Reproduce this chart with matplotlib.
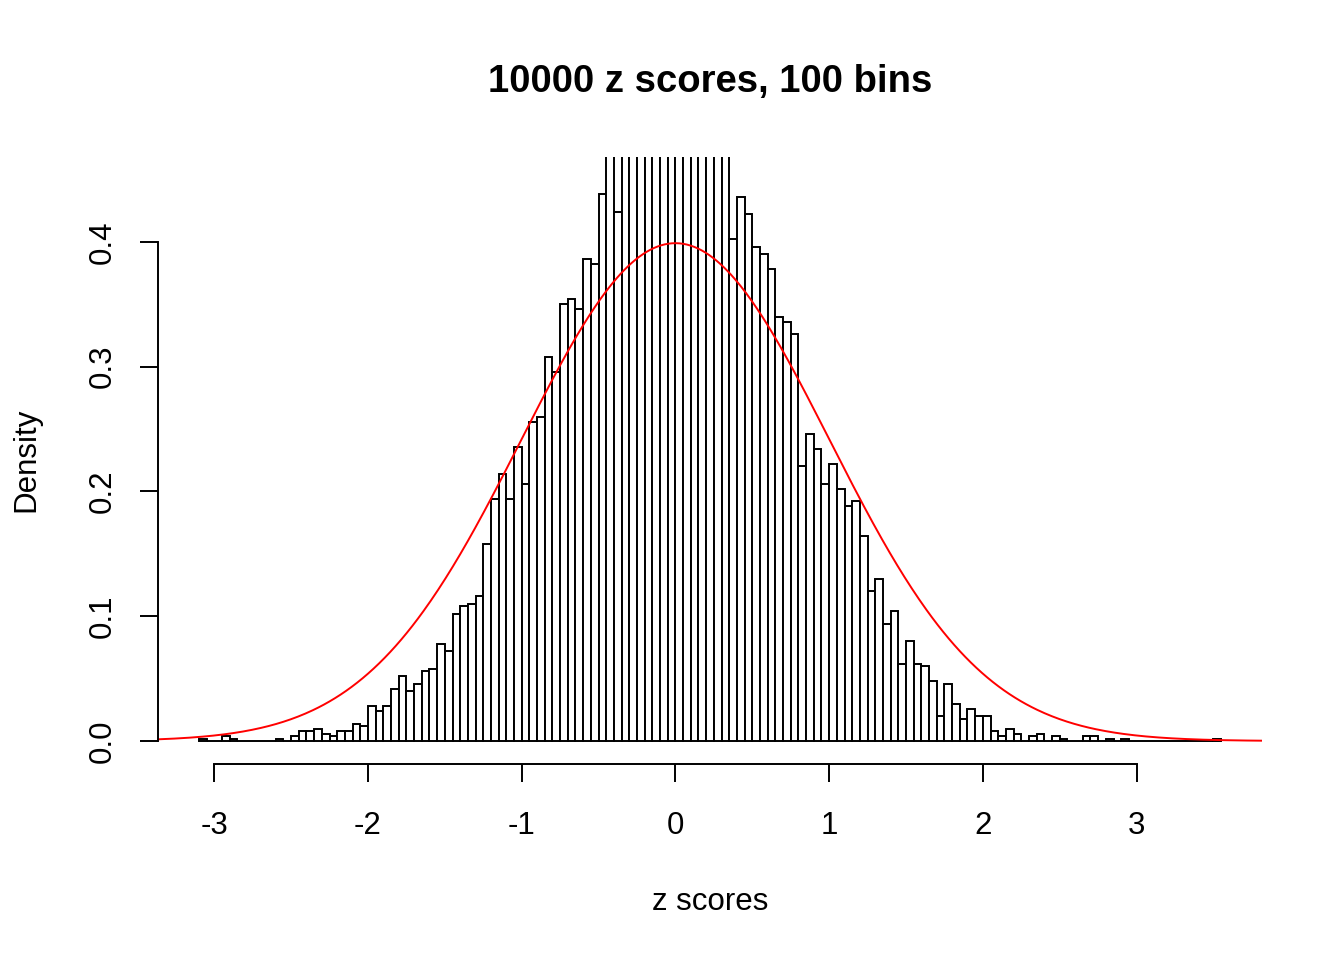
"""Histograma de 10000 z scores (100 bins) amb la densitat normal estàndard a sobre."""

import matplotlib

matplotlib.use("Agg")
import matplotlib.pyplot as plt  # noqa: E402
import numpy as np  # noqa: E402

N_SCORES = 10000
BIN_WIDTH = 0.05
FIRST_BREAK = -3.1

# comptes per bin llegits del gràfic (bins de 0.05 des de -3.1)
COUNTS_LOW_TAIL = [1, 0, 0, 2, 1, 0, 0, 0, 0, 0, 1, 0, 2, 4, 4, 5, 3, 2, 4, 4, 7, 6, 14]
COUNTS_RISE = [12, 14, 21, 26, 20, 23, 28, 29, 39, 36, 51, 54, 55, 58, 79, 97, 107, 97,
               118, 103, 128, 130, 154, 148, 175, 177, 173, 193, 191, 219]
# els bins centrals surten per dalt del gràfic: valors estimats
COUNTS_PEAK = [240, 212, 245, 250, 255, 262, 265, 268, 266, 262, 258, 255, 250, 248, 243, 240]
COUNTS_FALL = [201, 218, 211, 198, 195, 189, 170, 168, 163, 110, 123, 117, 103, 111, 101,
               94, 96, 82, 60, 65, 47, 52, 31, 40, 31, 30, 24, 10, 23, 15, 9, 13, 10, 10,
               4, 2, 5, 3]
COUNTS_HIGH_TAIL = [0, 2, 3, 0, 2, 1, 0, 0, 2, 2, 0, 1, 0, 1,
                    0, 0, 0, 0, 0, 0, 0, 0, 0, 0, 0, 1]

X_TICKS = [-3, -2, -1, 0, 1, 2, 3]
Y_TICKS = [0.0, 0.1, 0.2, 0.3, 0.4]
Y_TICK_LABELS = ["0.0", "0.1", "0.2", "0.3", "0.4"]

TITLE = "10000 z scores, 100 bins"
X_LABEL = "z scores"
Y_LABEL = "Density"

W, H = 1344, 960


def main() -> None:
    plt.rcParams["font.family"] = ["Liberation Sans", "DejaVu Sans"]
    counts = np.array(COUNTS_LOW_TAIL + COUNTS_RISE + COUNTS_PEAK + COUNTS_FALL + COUNTS_HIGH_TAIL)
    density = counts / (N_SCORES * BIN_WIDTH)
    lefts = FIRST_BREAK + BIN_WIDTH * np.arange(len(counts))

    fig = plt.figure(figsize=(W / 100, H / 100), dpi=100)
    ax = fig.add_axes([158 / W, 1 - 763.5 / H, 1104 / W, 606.5 / H])
    ax.bar(lefts, density, width=BIN_WIDTH, align="edge", facecolor="white",
           edgecolor="black", linewidth=1.4)

    xlim = (-3.366, 3.816)
    xs = np.linspace(*xlim, 600)
    ax.plot(xs, np.exp(-xs ** 2 / 2) / np.sqrt(2 * np.pi), color="red", linewidth=1.4)
    ax.set_xlim(*xlim)
    ax.set_ylim(-0.018, 0.468)

    for side in ("top", "right"):
        ax.spines[side].set_visible(False)
    ax.spines["left"].set_bounds(0, 0.4)
    ax.spines["bottom"].set_bounds(-3, 3)
    for side in ("left", "bottom"):
        ax.spines[side].set_linewidth(1.4)

    ax.set_xticks(X_TICKS, [str(t) for t in X_TICKS])
    ax.set_yticks(Y_TICKS, Y_TICK_LABELS, rotation=90, va="center")
    ax.tick_params(direction="out", length=13, width=1.4, labelsize=22.5)
    ax.tick_params(axis="x", pad=21)
    ax.tick_params(axis="y", pad=16)

    fig.text(710 / W, 1 - 92 / H, TITLE, ha="center", va="baseline",
             fontsize=27.5, fontweight="bold")
    fig.text(710 / W, 1 - 910 / H, X_LABEL, ha="center", va="baseline", fontsize=22.5)
    fig.text(34 / W, 1 - 460 / H, Y_LABEL, ha="center", va="baseline", rotation=90,
             rotation_mode="anchor", fontsize=22.5)

    fig.savefig("out.png", dpi=100)
    plt.close(fig)


if __name__ == "__main__":
    main()
